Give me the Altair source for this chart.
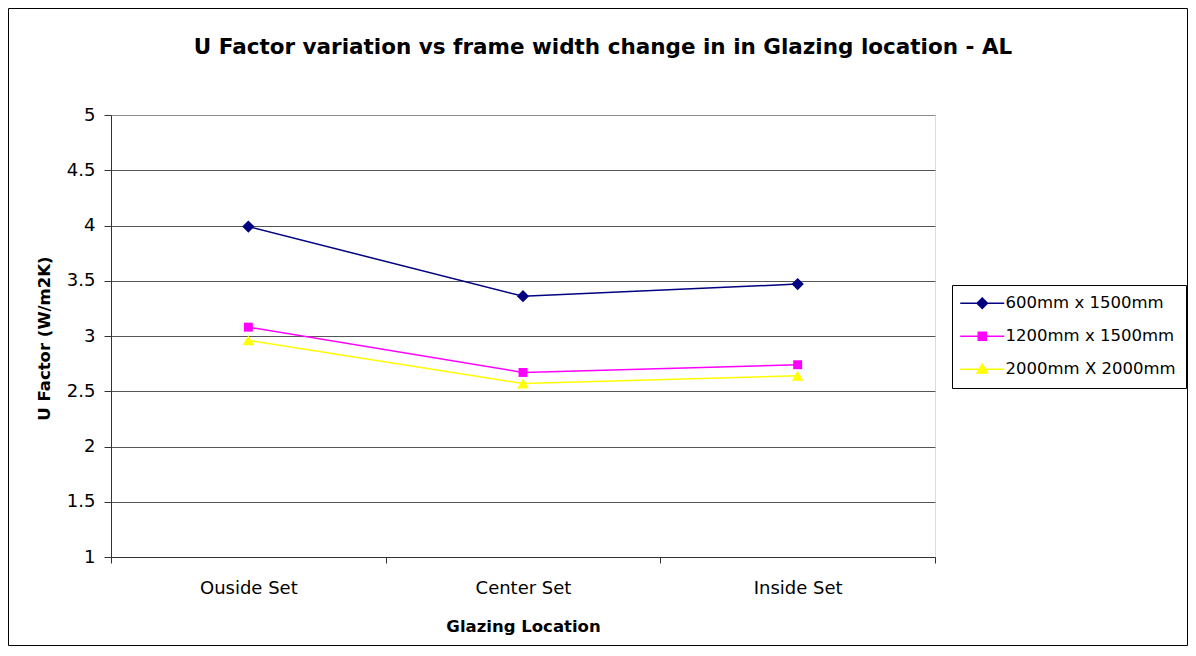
import altair as alt
import pandas as pd

# ---- data ----
categories = ["Ouside Set", "Center Set", "Inside Set"]
series_names = ["600mm x 1500mm", "1200mm x 1500mm", "2000mm X 2000mm"]
s600 = [3.99, 3.36, 3.47]
s1200 = [3.08, 2.67, 2.74]
s2000 = [2.96, 2.57, 2.64]
y_ticks = [1, 1.5, 2, 2.5, 3, 3.5, 4, 4.5, 5]

colors = ["#000080", "#FF00FF", "#FFFF00"]
shapes = ["diamond", "square", "triangle-up"]
sizes = [150, 80, 130]
legend_paths = [
    "M-5.5,0H5.5M0,-1.3L1.3,0L0,1.3L-1.3,0Z",
    "M-5.5,0H5.5M-1,-1H1V1H-1Z",
    "M-5.5,0H5.5M0,-1.3L1.3,0.95H-1.3Z",
]

rows = []
for name, vals in zip(series_names, [s600, s1200, s2000]):
    for c, v in zip(categories, vals):
        rows.append({"location": c, "series": name, "u": v})
df = pd.DataFrame(rows)

FONT = "DejaVu Sans"
W, H = 824, 442
PAD = {"left": 103, "top": 107, "right": 253, "bottom": 89}

x_enc = alt.X(
    "location:N",
    sort=categories,
    title="Glazing Location",
    scale=alt.Scale(type="band", domain=categories, paddingInner=0, paddingOuter=0),
    axis=alt.Axis(
        labelAngle=0, tickBand="extent", tickSize=6, grid=False,
        domainColor="#333333", tickColor="#333333",
        labelFont=FONT, labelFontSize=18, labelColor="black",
        labelBaseline="alphabetic", labelPadding=30,
        titleFont=FONT, titleFontSize=16.5, titleFontWeight="bold", titleColor="black",
        titleBaseline="alphabetic", titleY=74,
    ),
)
y_enc = alt.Y(
    "u:Q",
    title="U Factor (W/m2K)",
    scale=alt.Scale(domain=[1, 5], nice=False, zero=False),
    axis=alt.Axis(
        values=y_ticks, format="~g", tickSize=7, labelPadding=9,
        grid=True,
        gridColor={"condition": {"test": "datum.value == 5", "value": "#8c8c8c"}, "value": "#555555"},
        domainColor="#333333", tickColor="#333333",
        labelFont=FONT, labelFontSize=18, labelColor="black",
        titleFont=FONT, titleFontSize=16.5, titleFontWeight="bold", titleColor="black",
        titleAngle=270, titleX=-67, titleY=223, titleAlign="center", titleBaseline="middle",
    ),
)

base = alt.Chart(df)

series_layers = []
for name, col in zip(series_names, colors):
    series_layers.append(
        base.transform_filter(alt.datum.series == name)
        .mark_line(strokeWidth=1.5, color=col)
        .encode(x=x_enc, y=y_enc)
    )
for name, col, shp, sz in zip(series_names, colors, shapes, sizes):
    series_layers.append(
        base.transform_filter(alt.datum.series == name)
        .mark_point(filled=True, shape=shp, size=sz, opacity=1, color=col)
        .encode(x=x_enc, y=y_enc)
    )

leg = alt.Legend(
    title=None, orient="none", legendX=841, legendY=170,
    strokeColor="black", fillColor="white", padding=10, cornerRadius=0,
    labelFont=FONT, labelFontSize=16.5, labelColor="black", labelLimit=400,
    symbolSize=64, symbolStrokeWidth=1.5, symbolOpacity=1,
    symbolOffset=12, labelOffset=15, rowPadding=16,
)
legend_layer = base.transform_filter("false").mark_point(filled=True, size=64).encode(
    x=x_enc, y=y_enc,
    fill=alt.Fill("series:N", scale=alt.Scale(domain=series_names, range=colors), legend=leg),
    stroke=alt.Stroke("series:N", scale=alt.Scale(domain=series_names, range=colors), legend=leg),
    shape=alt.Shape("series:N", scale=alt.Scale(domain=series_names, range=legend_paths), legend=leg),
)

border = alt.Chart(alt.Data(values=[{"a": 1}])).mark_rect(
    fill="transparent", stroke="black", strokeWidth=1
).encode(
    x=alt.value(-102.5), x2=alt.value(1076.5),
    y=alt.value(-106.5), y2=alt.value(530.5),
)

chart = alt.layer(border, *series_layers, legend_layer).properties(
    width=W, height=H,
    autosize=alt.AutoSizeParams(type="none"),
    padding=PAD,
    title=alt.TitleParams(
        "U Factor variation vs frame width change in in Glazing location - AL",
        font=FONT, fontSize=21.5, fontWeight="bold", color="black",
        anchor="middle", frame="group", dx=80, dy=67, offset=0, baseline="alphabetic",
    ),
).configure_view(stroke="#8c8c8c", strokeWidth=2).configure(background="white")

chart.save("out.html", embed_options={"renderer": "svg", "actions": False})
